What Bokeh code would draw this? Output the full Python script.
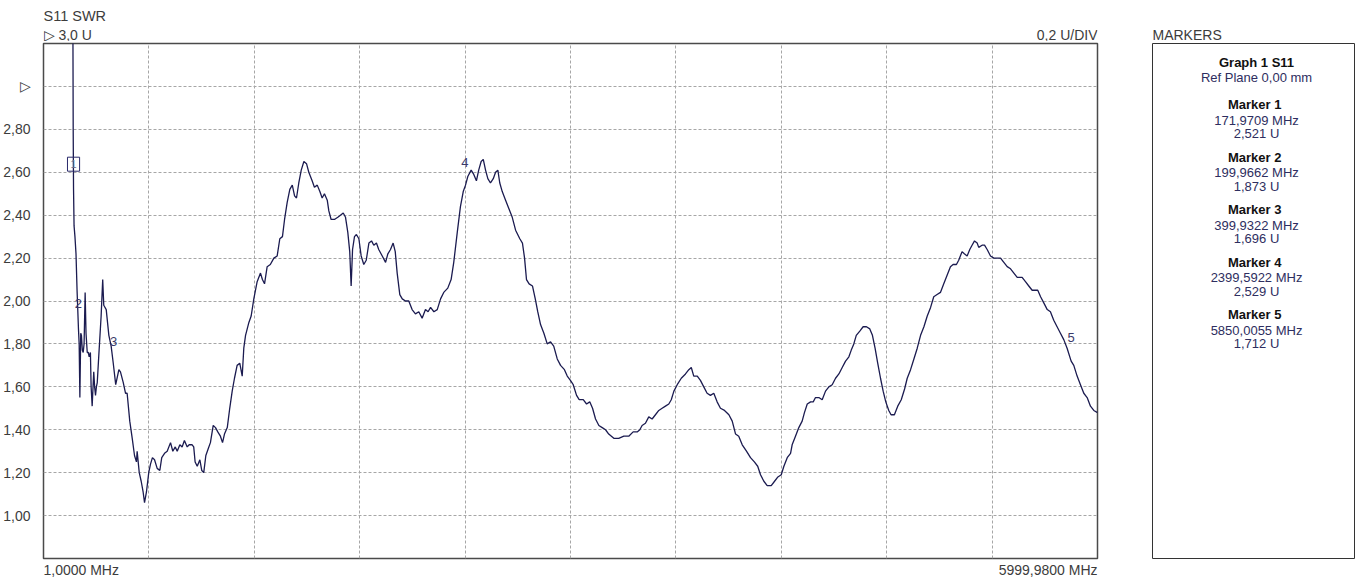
from bokeh.plotting import figure
from bokeh.models import Range1d, FixedTicker, ColumnDataSource, CDSView, IndexFilter
from bokeh.layouts import row, column
from bokeh.embed import file_html
from bokeh.resources import INLINE
from bokeh.core.properties import value

# ---------------- data ----------------
freq_mhz = [
    1, 100, 166, 170, 172, 175, 180, 186, 192, 200, 204, 208, 213, 217, 222, 227, 232, 238,
    243, 250, 256, 261, 268, 272, 278, 283, 287, 292, 297, 302, 307, 316, 329, 338, 344, 358,
    373, 386, 398, 412, 430, 439, 455, 468, 477, 492, 506, 519, 530, 534, 546, 557, 568, 576,
    587, 600, 610, 621, 633, 648, 663, 674, 690, 705, 724, 737, 751, 762, 777, 790, 803, 819,
    830, 847, 856, 864, 876, 891, 902, 913, 925, 938, 951, 967, 980, 993, 1008, 1020, 1031,
    1047, 1061, 1075, 1088, 1103, 1118, 1132, 1141, 1151, 1170, 1183, 1198, 1217, 1236, 1247,
    1259, 1274, 1292, 1312, 1331, 1346, 1361, 1373, 1388, 1403, 1417, 1430, 1441, 1454, 1468,
    1483, 1498, 1511, 1530, 1543, 1559, 1574, 1587, 1600, 1616, 1625, 1638, 1657, 1676, 1691,
    1707, 1720, 1733, 1744, 1752, 1760, 1771, 1782, 1796, 1809, 1824, 1838, 1853, 1868, 1881,
    1896, 1909, 1929, 1948, 1961, 1976, 1991, 2003, 2014, 2029, 2043, 2061, 2080, 2099, 2118,
    2137, 2156, 2175, 2190, 2204, 2223, 2242, 2261, 2279, 2302, 2321, 2336, 2356, 2374, 2390,
    2403, 2416, 2435, 2450, 2465, 2478, 2492, 2504, 2517, 2530, 2545, 2561, 2574, 2587, 2598,
    2612, 2631, 2650, 2669, 2688, 2712, 2727, 2739, 2750, 2765, 2784, 2800, 2814, 2830, 2849,
    2868, 2887, 2905, 2925, 2944, 2966, 2982, 3000, 3016, 3035, 3050, 3073, 3092, 3110, 3126,
    3143, 3162, 3181, 3200, 3218, 3247, 3275, 3304, 3332, 3357, 3380, 3395, 3408, 3427, 3446,
    3465, 3484, 3503, 3522, 3541, 3560, 3574, 3589, 3608, 3631, 3655, 3674, 3688, 3702, 3722,
    3740, 3759, 3778, 3797, 3816, 3835, 3854, 3877, 3902, 3921, 3940, 3958, 3978, 4002, 4025,
    4047, 4066, 4082, 4101, 4120, 4143, 4162, 4181, 4200, 4215, 4234, 4253, 4262, 4281, 4300,
    4319, 4332, 4348, 4367, 4382, 4395, 4414, 4433, 4452, 4471, 4490, 4509, 4528, 4547, 4566,
    4585, 4598, 4613, 4627, 4647, 4666, 4685, 4704, 4719, 4734, 4749, 4765, 4780, 4795, 4812,
    4825, 4844, 4863, 4883, 4902, 4917, 4936, 4955, 4974, 4993, 5012, 5031, 5050, 5068, 5087,
    5106, 5125, 5144, 5163, 5178, 5197, 5210, 5229, 5242, 5258, 5273, 5286, 5300, 5315, 5324,
    5343, 5357, 5372, 5391, 5410, 5429, 5448, 5467, 5486, 5505, 5524, 5543, 5571, 5590, 5609,
    5628, 5647, 5660, 5676, 5695, 5714, 5732, 5751, 5770, 5789, 5808, 5827, 5850, 5865, 5884,
    5903, 5922, 5941, 5960, 5979, 6000,
]
swr = [
    12.0, 8.0, 4.0, 2.80, 2.52, 2.35, 2.30, 2.22, 2.05, 1.87, 1.80, 1.55, 1.85, 1.84, 1.77, 1.76, 1.80, 2.04,
    1.85, 1.76, 1.76, 1.74, 1.76, 1.60, 1.51, 1.60, 1.67, 1.60, 1.56, 1.60, 1.62, 1.75, 1.93, 2.10, 1.98, 1.96,
    1.84, 1.79, 1.71, 1.61, 1.68, 1.67, 1.62, 1.57, 1.57, 1.44, 1.36, 1.28, 1.25, 1.30, 1.20, 1.16, 1.11, 1.06,
    1.11, 1.20, 1.24, 1.27, 1.26, 1.22, 1.21, 1.27, 1.29, 1.30, 1.34, 1.30, 1.32, 1.30, 1.33, 1.32, 1.35, 1.32,
    1.33, 1.33, 1.32, 1.25, 1.23, 1.26, 1.21, 1.20, 1.28, 1.31, 1.34, 1.42, 1.41, 1.39, 1.37, 1.34, 1.38,
    1.41, 1.50, 1.58, 1.64, 1.70, 1.71, 1.65, 1.78, 1.84, 1.90, 1.93, 2.01, 2.09, 2.13, 2.10,
    2.08, 2.16, 2.17, 2.20, 2.21, 2.29, 2.30, 2.38, 2.46, 2.52, 2.54, 2.49, 2.48, 2.55, 2.61,
    2.65, 2.64, 2.60, 2.56, 2.53, 2.54, 2.51, 2.48, 2.50, 2.47, 2.42, 2.38, 2.38, 2.39, 2.40,
    2.41, 2.39, 2.32, 2.23, 2.07, 2.24, 2.30, 2.31, 2.29, 2.21, 2.17, 2.19, 2.27, 2.28, 2.26,
    2.27, 2.24, 2.21, 2.18, 2.22, 2.24, 2.27, 2.23, 2.13, 2.03, 2.01, 2.00, 2.00, 1.96, 1.94,
    1.95, 1.92, 1.96, 1.95, 1.97, 1.95, 1.96, 2.01, 2.04, 2.06, 2.10, 2.18, 2.32, 2.44, 2.51,
    2.54, 2.58, 2.61, 2.59, 2.56, 2.61, 2.65, 2.66, 2.61, 2.57, 2.55, 2.57, 2.60, 2.61, 2.55,
    2.51, 2.47, 2.43, 2.39, 2.33, 2.29, 2.27, 2.20, 2.10, 2.08, 2.07, 2.01, 1.95, 1.89, 1.85,
    1.80, 1.81, 1.79, 1.73, 1.70, 1.68, 1.65, 1.63, 1.61, 1.56, 1.54, 1.54, 1.52, 1.53, 1.50,
    1.45, 1.42, 1.41, 1.40, 1.38, 1.36, 1.36, 1.37, 1.37, 1.39, 1.39, 1.40, 1.42, 1.43, 1.46,
    1.45, 1.47, 1.49, 1.50, 1.51, 1.52, 1.54, 1.58, 1.61, 1.64, 1.66, 1.68, 1.69, 1.65, 1.65,
    1.63, 1.60, 1.57, 1.56, 1.57, 1.53, 1.50, 1.49, 1.47, 1.44, 1.38, 1.37, 1.33, 1.30, 1.27,
    1.25, 1.23, 1.19, 1.16, 1.14, 1.14, 1.16, 1.18, 1.19, 1.23, 1.27, 1.29, 1.33, 1.37, 1.41,
    1.44, 1.48, 1.52, 1.53, 1.53, 1.55, 1.55, 1.54, 1.58, 1.60, 1.61, 1.64, 1.66, 1.69, 1.72,
    1.74, 1.77, 1.80, 1.84, 1.86, 1.88, 1.88, 1.87, 1.84, 1.78, 1.71, 1.64, 1.58, 1.53, 1.49,
    1.47, 1.47, 1.51, 1.54, 1.59, 1.64, 1.68, 1.73, 1.78, 1.84, 1.88, 1.93, 1.97, 2.02, 2.03,
    2.04, 2.08, 2.12, 2.16, 2.17, 2.17, 2.19, 2.23, 2.22, 2.21, 2.24, 2.26, 2.28, 2.27, 2.25,
    2.26, 2.26, 2.24, 2.21, 2.20, 2.20, 2.20, 2.18, 2.16, 2.15, 2.13, 2.11, 2.11, 2.09, 2.07,
    2.05, 2.05, 2.05, 2.02, 1.99, 1.96, 1.95, 1.91, 1.88, 1.85, 1.82, 1.78, 1.72, 1.70, 1.65,
    1.61, 1.57, 1.55, 1.51, 1.49, 1.48,
]

marker_ids = ["1", "2", "3", "4", "5"]
marker_freq = [171.9709, 199.9662, 399.9322, 2399.5922, 5850.0055]
marker_swr = [2.521, 1.873, 1.696, 2.529, 1.712]

y_tick_values = [1.0, 1.2, 1.4, 1.6, 1.8, 2.0, 2.2, 2.4, 2.6, 2.8, 3.0]
y_tick_labels = ["1,00", "1,20", "1,40", "1,60", "1,80", "2,00", "2,20", "2,40", "2,60", "2,80", "\u25b7"]
y_grid_values = [1.0, 1.2, 1.4, 1.6, 1.8, 2.0, 2.2, 2.4, 2.6, 2.8, 3.0]
x_start_label = "1,0000 MHz"
x_end_label = "5999,9800 MHz"
title_text = "S11 SWR"
ref_text = "\u25b7  3,0 U"
scale_text = "0,2 U/DIV"

F_START, F_END = 1.0, 5999.98
Y_BOTTOM, Y_TOP = 0.8, 3.2
N_XDIV = 10

FONT = "Liberation Sans"
TXT = "#3c3c3c"
TRACE = "#1b1b50"
GRID = "#a6a6a6"

LEFT_W, PANEL_W = 1140, 221
HEAD_H, MAIN_H, FOOT_H = 41, 519, 19

xr = Range1d(F_START, F_END)


def blank(width, height, yr, bl, br):
    f = figure(width=width, height=height, x_range=xr if bl == 43 else Range1d(0, 1),
               y_range=yr, x_axis_location=None, y_axis_location=None,
               output_backend="svg", toolbar_location=None,
               min_border_left=bl, min_border_right=br, min_border_top=0, min_border_bottom=0)
    f.xgrid.visible = False
    f.ygrid.visible = False
    f.outline_line_color = None
    f.background_fill_color = "white"
    f.border_fill_color = "white"
    return f


# ---------------- header above the graph ----------------
head = blank(LEFT_W, HEAD_H, Range1d(HEAD_H, 0), 43, 43)
head.text(x=[F_START], y=[15], text=[title_text], text_font=value(FONT), text_font_size="14.5px",
          text_color=TXT, text_align="left", text_baseline="middle")
head.text(x=[F_START], y=[34], text=[ref_text], text_font=value(FONT), text_font_size="14px",
          text_color=TXT, text_align="left", text_baseline="middle")
head.text(x=[F_END], y=[34], text=[scale_text], text_font=value(FONT), text_font_size="14px",
          text_color=TXT, text_align="right", text_baseline="middle")

# ---------------- main graph ----------------
p = figure(width=LEFT_W, height=MAIN_H, x_range=xr, y_range=Range1d(Y_BOTTOM, Y_TOP),
           x_axis_location=None, y_axis_location="left",
           output_backend="svg", toolbar_location=None,
           min_border_left=43, min_border_right=43, min_border_top=2, min_border_bottom=2)
p.background_fill_color = "white"
p.border_fill_color = "white"
p.outline_line_color = "#4a4a4a"
p.outline_line_width = 1.5

ax = p.yaxis[0]
ax.ticker = FixedTicker(ticks=y_tick_values)
ax.major_label_overrides = dict(zip(y_tick_values, y_tick_labels))
ax.axis_line_color = None
ax.major_tick_line_color = None
ax.minor_tick_line_color = None
ax.major_label_standoff = 7
ax.major_label_text_font = FONT
ax.major_label_text_font_size = "14px"
ax.major_label_text_color = TXT

p.ygrid.ticker = FixedTicker(ticks=y_grid_values)
step = (F_END - F_START) / N_XDIV
p.xgrid.ticker = FixedTicker(ticks=[F_START + k * step for k in range(1, N_XDIV)])
for g in (p.xgrid[0], p.ygrid[0]):
    g.grid_line_color = GRID
    g.grid_line_dash = "3 2"
    g.grid_line_width = 1

p.line(freq_mhz, swr, line_color=TRACE, line_width=1.3)

msrc = ColumnDataSource(dict(x=marker_freq, y=marker_swr, t=marker_ids))
p.text("x", "y", "t", source=msrc, view=CDSView(filter=IndexFilter([1, 2, 3, 4])),
       text_font=value(FONT), text_font_size="13px", text_color="#3a3a6a",
       text_align="center", text_baseline="middle", y_offset=-25)
p.text("x", "y", "t", source=msrc, view=CDSView(filter=IndexFilter([0])),
       text_font=value(FONT), text_font_size="11px", text_color="#6a6a8a",
       text_align="center", text_baseline="middle", y_offset=-25,
       border_line_color="#2a2a6a", border_line_width=1, padding=3)

# ---------------- footer below the graph ----------------
foot = blank(LEFT_W, FOOT_H, Range1d(FOOT_H, 0), 43, 43)
foot.text(x=[F_START], y=[9], text=[x_start_label], text_font=value(FONT), text_font_size="14px",
          text_color=TXT, text_align="left", text_baseline="middle")
foot.text(x=[F_END], y=[9], text=[x_end_label], text_font=value(FONT), text_font_size="14px",
          text_color=TXT, text_align="right", text_baseline="middle")

# ---------------- marker panel ----------------
qhead = blank(PANEL_W, HEAD_H, Range1d(HEAD_H, 0), 12, 7)
qhead.text(x=[0], y=[34], text=["MARKERS"], text_font=value(FONT), text_font_size="14px",
           text_color=TXT, text_align="left", text_baseline="middle")

q = figure(width=PANEL_W, height=MAIN_H, x_range=Range1d(0, 1), y_range=Range1d(515, 0),
           x_axis_location=None, y_axis_location=None,
           output_backend="svg", toolbar_location=None,
           min_border_left=12, min_border_right=7, min_border_top=2, min_border_bottom=2)
q.xgrid.visible = False
q.ygrid.visible = False
q.background_fill_color = "white"
q.border_fill_color = "white"
q.outline_line_color = "#333333"
q.outline_line_width = 1

GAP = 52.4
bold_text = ["Graph 1 S11"] + ["Marker  " + m for m in marker_ids]
bold_y = [18.7] + [61.3 + GAP * i for i in range(len(marker_ids))]
sub_text = ["Ref Plane 0,00 mm"]
sub_y = [33.7]
for i, (f, v) in enumerate(zip(marker_freq, marker_swr)):
    sub_text.append(f"{f:.4f}".replace(".", ",") + " MHz")
    sub_y.append(77.0 + GAP * i)
    sub_text.append(f"{v:.3f}".replace(".", ",") + " U")
    sub_y.append(90.3 + GAP * i)

q.text(x=[0.515] * len(bold_text), y=bold_y, text=bold_text,
       text_font=value(FONT), text_font_size="13px", text_font_style="bold",
       text_color="#111111", text_align="center", text_baseline="middle")
q.text(x=[0.515] * len(sub_text), y=sub_y, text=sub_text,
       text_font=value(FONT), text_font_size="13px",
       text_color="#2e2e60", text_align="center", text_baseline="middle")

layout = row(column(head, p, foot), column(qhead, q))
open("out.html", "w").write(file_html(layout, INLINE))
